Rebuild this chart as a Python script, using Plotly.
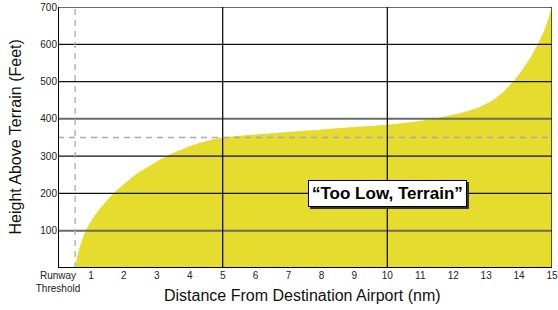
import plotly.graph_objects as go

# Terrain clearance curve (distance nm, height ft)
distance_nm = [0.52, 0.6, 0.84, 1.14, 1.68, 2.38, 3.29, 4.24, 5.0, 6.0, 7.5, 9.0, 10.0, 11.0, 11.38, 12.2, 12.8, 13.2, 13.55, 13.82, 14.1, 14.35, 14.57, 14.8, 15.0]
height_ft = [0, 38, 100, 145, 200, 252, 300, 334, 350, 358, 368, 378, 384, 394, 400, 415, 432, 450, 475, 500, 532, 565, 600, 645, 700]

x_tick_vals = list(range(0, 16))
x_tick_text = ["Runway<br>Threshold"] + [str(i) for i in range(1, 16)]
y_tick_vals = [100, 200, 300, 400, 500, 600, 700]
y_tick_text = [str(v) for v in y_tick_vals]
x_grid_vals = [5, 10, 15]
threshold_x = 0.52
alert_floor_ft = 350
label_text = "“Too Low, Terrain”"
label_pos = (10, 200)
x_title = "Distance From Destination Airport (nm)"
y_title = "Height Above Terrain (Feet)"

FONT = "Liberation Sans, Arial, Helvetica"

fig = go.Figure()
fig.add_trace(go.Scatter(
    x=distance_nm, y=height_ft, mode="lines", fill="tozeroy",
    line=dict(width=0, color="#E5DC2E", shape="spline", smoothing=0.6),
    fillcolor="#E5DC2E", hoverinfo="skip", showlegend=False))

shapes = []
for v in y_tick_vals:
    gray = v in (100, 400, 700)
    shapes.append(dict(type="line", xref="x", yref="y", x0=0, x1=15, y0=v, y1=v,
                       line=dict(color="#6a6a6a" if gray else "#111111", width=2 if gray else 1.3),
                       layer="above"))
for v in x_grid_vals:
    shapes.append(dict(type="line", xref="x", yref="y", x0=v, x1=v, y0=0, y1=700,
                       line=dict(color="#111111", width=1.3), layer="above"))
shapes.append(dict(type="line", xref="x", yref="y", x0=threshold_x, x1=threshold_x, y0=0, y1=700,
                   line=dict(color="#aaaaaa", width=1.3, dash="6px,5px"), layer="above"))
shapes.append(dict(type="line", xref="x", yref="y", x0=0, x1=15, y0=alert_floor_ft, y1=alert_floor_ft,
                   line=dict(color="#aaaaaa", width=1.3, dash="6px,5px"), layer="above"))
shapes.append(dict(type="line", xref="x", yref="y", x0=0, x1=0, y0=0, y1=700,
                   line=dict(color="#000000", width=2), layer="above"))
shapes.append(dict(type="line", xref="x", yref="y", x0=0, x1=15, y0=0, y1=0,
                   line=dict(color="#000000", width=2), layer="above"))
fig.update_layout(shapes=shapes)

# shadow + label
fig.add_annotation(x=label_pos[0], y=label_pos[1], xref="x", yref="y", text="<b>" + label_text + "</b>",
                   showarrow=False, xshift=2, yshift=-2,
                   font=dict(family=FONT, size=17, color="#333333"),
                   bgcolor="#333333", bordercolor="#333333", borderwidth=1, borderpad=3)
fig.add_annotation(x=label_pos[0], y=label_pos[1], xref="x", yref="y", text="<b>" + label_text + "</b>",
                   showarrow=False,
                   font=dict(family=FONT, size=17, color="#000000"),
                   bgcolor="#ffffff", bordercolor="#000000", borderwidth=1, borderpad=3)

# axis titles
fig.add_annotation(x=-0.087, y=0.5, xref="paper", yref="paper", text=y_title, textangle=-90,
                   xanchor="center", yanchor="middle",
                   showarrow=False, font=dict(family=FONT, size=16, color="#111111"))
fig.add_annotation(x=0.494, y=-0.107, xref="paper", yref="paper", text=x_title,
                   xanchor="center", yanchor="middle",
                   showarrow=False, font=dict(family=FONT, size=16, color="#111111"))

fig.update_layout(
    width=558, height=310,
    margin=dict(l=58, r=6, t=7, b=42),
    paper_bgcolor="white", plot_bgcolor="white",
    font=dict(family=FONT, color="#000000"),
    xaxis=dict(range=[0, 15], tickvals=x_tick_vals, ticktext=x_tick_text, automargin=False,
               showgrid=False, zeroline=False, showline=False, ticks="",
               tickfont=dict(size=10, color="#222222")),
    yaxis=dict(range=[0, 700], tickvals=y_tick_vals, ticktext=y_tick_text, automargin=False,
               showgrid=False, zeroline=False, showline=False, ticks="",
               tickfont=dict(size=10, color="#222222")),
)

fig.write_html("out.html", config={"displayModeBar": False},
               post_script="document.body.style.margin='0';document.body.style.overflow='hidden';")
